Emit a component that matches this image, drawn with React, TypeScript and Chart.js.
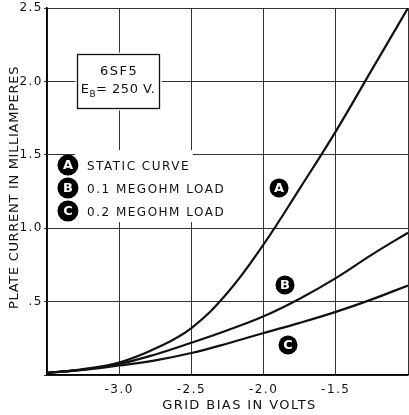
import React, { useEffect, useRef } from 'react';
import { Chart, registerables } from 'chart.js';

Chart.register(...registerables);

// ---- data ----
const gridBias = [-3.5, -3.25, -3.0, -2.75, -2.5, -2.25, -2.0, -1.75, -1.5, -1.25, -1.0];
const staticCurve = [0.015, 0.04, 0.085, 0.18, 0.32, 0.56, 0.89, 1.27, 1.66, 2.08, 2.5];
const load01Meg = [0.015, 0.037, 0.075, 0.14, 0.22, 0.305, 0.4, 0.52, 0.66, 0.82, 0.97];
const load02Meg = [0.015, 0.035, 0.065, 0.1, 0.15, 0.215, 0.286, 0.355, 0.43, 0.515, 0.61];

const xTickValues = [-3.0, -2.5, -2.0, -1.5];
const xTickLabels = ['-3.0', '-2.5', '-2.0', '-1.5'];
const yTickValues = [0.5, 1.0, 1.5, 2.0, 2.5];
const yTickLabels = ['.5', '1.0', '1.5', '2.0', '2.5'];

const legendLetters = ['A', 'B', 'C'];
const legendTexts = ['STATIC CURVE', '0.1 MEGOHM LOAD', '0.2 MEGOHM LOAD'];

const tubeName = '6SF5';
const plateVoltage = '= 250 V.';

// annotation anchors in data coordinates
const curveTags = [
  { letter: 'A', x: -1.893, y: 1.274 },
  { letter: 'B', x: -1.852, y: 0.613 },
  { letter: 'C', x: -1.831, y: 0.204 },
];
const legendAnchor = { circleX: -3.355, textX: -3.223, rows: [1.43, 1.274, 1.117] };
const boxAnchor = { x0: -3.292, x1: -2.724, y0: 2.187, y1: 1.819, line1: 2.064, line2: 1.941 };
const legendMasks = [
  { x0: -3.306, x1: -2.49, y0: 1.533, y1: 1.042 },
  { x0: -2.49, x1: -2.24, y0: 1.49, y1: 1.042 },
];

const FONT = '"DejaVu Sans", sans-serif';

function tag(ctx: CanvasRenderingContext2D, x: number, y: number, r: number, letter: string) {
  ctx.save();
  ctx.letterSpacing = '0px';
  ctx.fillStyle = '#000';
  ctx.beginPath();
  ctx.arc(x, y, r, 0, Math.PI * 2);
  ctx.fill();
  ctx.fillStyle = '#fff';
  ctx.font = `bold 13px ${FONT}`;
  ctx.textAlign = 'center';
  ctx.textBaseline = 'middle';
  ctx.fillText(letter, x, y + 1);
  ctx.restore();
}

const annotations = {
  id: 'annotations',
  beforeDraw(chart: any) {
    chart.ctx.letterSpacing = '1.5px';
  },
  beforeDatasetsDraw(chart: any) {
    const ctx: CanvasRenderingContext2D = chart.ctx;
    const xs = chart.scales.x;
    const ys = chart.scales.y;
    ctx.save();
    ctx.fillStyle = '#fff';
    for (const m of legendMasks) {
      const x0 = xs.getPixelForValue(m.x0);
      const x1 = xs.getPixelForValue(m.x1);
      const y0 = ys.getPixelForValue(m.y0);
      const y1 = ys.getPixelForValue(m.y1);
      ctx.fillRect(x0, y0, x1 - x0, y1 - y0);
    }
    const bx0 = Math.round(xs.getPixelForValue(boxAnchor.x0)) + 0.5;
    const bx1 = Math.round(xs.getPixelForValue(boxAnchor.x1)) + 0.5;
    const by0 = Math.round(ys.getPixelForValue(boxAnchor.y0)) + 0.5;
    const by1 = Math.round(ys.getPixelForValue(boxAnchor.y1)) + 0.5;
    ctx.fillRect(bx0 - 2, by0 - 2, bx1 - bx0 + 4, by1 - by0 + 4);
    ctx.strokeStyle = '#111';
    ctx.lineWidth = 1.3;
    ctx.strokeRect(bx0, by0, bx1 - bx0, by1 - by0);
    ctx.restore();
  },
  afterDatasetsDraw(chart: any) {
    const ctx: CanvasRenderingContext2D = chart.ctx;
    const xs = chart.scales.x;
    const ys = chart.scales.y;
    for (const t of curveTags) {
      tag(ctx, xs.getPixelForValue(t.x), ys.getPixelForValue(t.y), 9.5, t.letter);
    }
    const cx = xs.getPixelForValue(legendAnchor.circleX);
    const tx = xs.getPixelForValue(legendAnchor.textX);
    legendLetters.forEach((l, i) => {
      const y = ys.getPixelForValue(legendAnchor.rows[i]);
      tag(ctx, cx, y, 10.5, l);
      ctx.save();
      ctx.letterSpacing = '1.5px';
      ctx.fillStyle = '#111';
      ctx.font = `12px ${FONT}`;
      ctx.textAlign = 'left';
      ctx.textBaseline = 'middle';
      ctx.fillText(legendTexts[i], tx, y + 2);
      ctx.restore();
    });
    const bcx = (xs.getPixelForValue(boxAnchor.x0) + xs.getPixelForValue(boxAnchor.x1)) / 2;
    ctx.save();
    ctx.fillStyle = '#111';
    ctx.textBaseline = 'middle';
    ctx.letterSpacing = '1.5px';
    ctx.font = `13px ${FONT}`;
    ctx.textAlign = 'center';
    ctx.fillText(tubeName, bcx + 1, ys.getPixelForValue(boxAnchor.line1));
    const ly = ys.getPixelForValue(boxAnchor.line2);
    ctx.textAlign = 'left';
    ctx.letterSpacing = '0.5px';
    const wE = ctx.measureText('E').width;
    const wV = ctx.measureText(plateVoltage).width;
    ctx.font = `9px ${FONT}`;
    const wB = ctx.measureText('B').width;
    const total = wE + wB + wV;
    let x = bcx - total / 2;
    ctx.font = `13px ${FONT}`;
    ctx.fillText('E', x, ly);
    x += wE;
    ctx.font = `9px ${FONT}`;
    ctx.fillText('B', x, ly + 5);
    x += wB;
    ctx.font = `13px ${FONT}`;
    ctx.fillText(plateVoltage, x, ly);
    ctx.restore();
  },
  afterDraw(chart: any) {
    const ctx: CanvasRenderingContext2D = chart.ctx;
    const area = chart.chartArea;
    ctx.save();
    ctx.fillStyle = '#111';
    ctx.font = `13px ${FONT}`;
    ctx.letterSpacing = '1.4px';
    ctx.textAlign = 'center';
    ctx.textBaseline = 'middle';
    ctx.fillText('GRID BIAS IN VOLTS', (area.left + area.right) / 2 + 12, 406);
    ctx.translate(15, (area.top + area.bottom) / 2 - 4);
    ctx.rotate(-Math.PI / 2);
    ctx.letterSpacing = '0.7px';
    ctx.fillText('PLATE CURRENT IN MILLIAMPERES', 0, 0);
    ctx.restore();
  },
};

export default function App() {
  const ref = useRef<HTMLCanvasElement | null>(null);
  useEffect(() => {
    if (!ref.current) return;
    const mk = (vals: number[]) => gridBias.map((x, i) => ({ x, y: vals[i] }));
    const lineStyle = {
      borderColor: '#111',
      borderWidth: 2.2,
      pointRadius: 0,
      fill: false,
      tension: 0.4,
    };
    const chart = new Chart(ref.current, {
      type: 'line',
      data: {
        datasets: [
          { label: legendTexts[0], data: mk(staticCurve), ...lineStyle },
          { label: legendTexts[1], data: mk(load01Meg), ...lineStyle },
          { label: legendTexts[2], data: mk(load02Meg), ...lineStyle },
        ],
      },
      options: {
        responsive: false,
        animation: false,
        devicePixelRatio: 1,
        layout: { padding: { top: 8, right: 1, left: 0, bottom: 0 } },
        plugins: { legend: { display: false }, tooltip: { enabled: false } },
        scales: {
          x: {
            type: 'linear',
            min: -3.5,
            max: -1.0,
            border: { color: '#000', width: 1.6 },
            grid: { color: '#333', lineWidth: 1, drawTicks: false },
            ticks: {
              stepSize: 0.5,
              autoSkip: false,
              maxRotation: 0,
              padding: 8,
              color: '#111',
              font: { family: FONT, size: 12 },
              callback: (v: any) => {
                const i = xTickValues.findIndex((t) => Math.abs(t - v) < 1e-6);
                return i >= 0 ? xTickLabels[i] : '';
              },
            },
            afterFit: (s: any) => {
              s.height = 40;
              s.paddingLeft = 0;
              s.paddingRight = 0;
            },
          },
          y: {
            type: 'linear',
            min: 0,
            max: 2.5,
            border: { color: '#000', width: 1.6 },
            grid: { color: '#333', lineWidth: 1, drawTicks: true, tickLength: 3 },
            ticks: {
              stepSize: 0.5,
              autoSkip: false,
              padding: 1,
              color: '#111',
              font: { family: FONT, size: 12 },
              callback: (v: any) => {
                const i = yTickValues.findIndex((t) => Math.abs(t - v) < 1e-6);
                return i >= 0 ? yTickLabels[i] : '';
              },
            },
            afterFit: (s: any) => {
              s.width = 47;
              s.paddingTop = 0;
              s.paddingBottom = 0;
            },
          },
        },
      },
      plugins: [annotations],
    });
    return () => chart.destroy();
  }, []);
  return (
    <div style={{ position: 'absolute', left: 0, top: 0, width: 409, height: 415, background: '#fff' }}>
      <canvas ref={ref} width={409} height={415} style={{ display: 'block' }} />
    </div>
  );
}
